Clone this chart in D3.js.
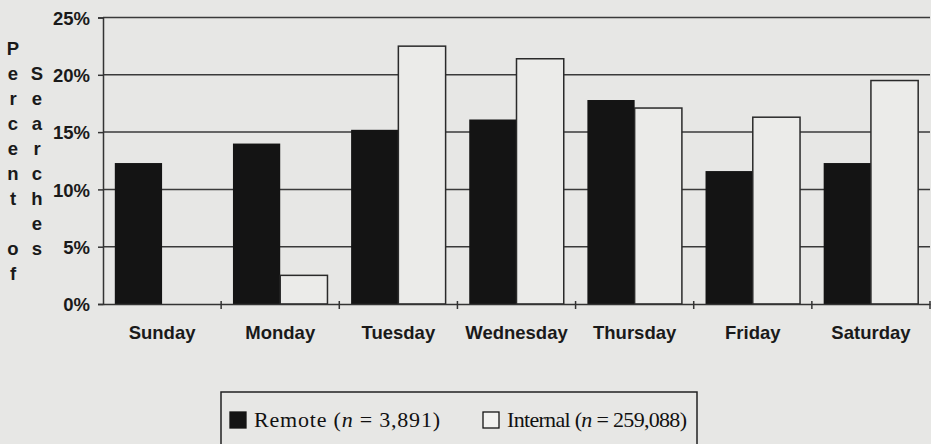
<!DOCTYPE html>
<meta charset="utf-8">
<style>
body { margin: 0; background: #e7e7e5; }
svg { display: block; }
.tick text, .lab { font-family: "Liberation Sans", Arial, sans-serif; font-weight: bold; font-size: 18.5px; fill: #1a1a1a; }
.legend text { font-family: "Liberation Serif", "Times New Roman", serif; font-size: 22px; fill: #111; }
</style>
<body>
<script src="https://cdn.jsdelivr.net/npm/d3@7"></script>
<script>

var days = ["Sunday", "Monday", "Tuesday", "Wednesday", "Thursday", "Friday", "Saturday"];
var remote = [12.3, 14.0, 15.2, 16.1, 17.8, 11.6, 12.3];
var internal = [0, 2.5, 22.5, 21.4, 17.1, 16.3, 19.5];
var yTicks = [0, 5, 10, 15, 20, 25];
var titleCols = ["Percent of", "Searches"];

var W = 931, H = 444;
var plotLeft = 103, plotRight = 930, plotTop = 17.5, plotBottom = 304;

var svg = d3.select("body").append("svg")
  .attr("width", W)
  .attr("height", H);

svg.append("rect").attr("width", W).attr("height", H).attr("fill", "#e7e7e5");

var x = d3.scaleBand().domain(days).range([plotLeft, plotRight]);
var x1 = d3.scaleBand().domain(["remote", "internal"])
  .range([0, x.bandwidth()]).paddingOuter(0.25);
var y = d3.scaleLinear().domain([0, 25]).range([plotBottom, plotTop]);

// gridlines
svg.append("g")
  .selectAll("line")
  .data(yTicks.slice(1))
  .enter().append("line")
  .attr("x1", plotLeft).attr("x2", plotRight)
  .attr("y1", function(d) { return y(d); })
  .attr("y2", function(d) { return y(d); })
  .attr("stroke", "#3a3a3a")
  .attr("stroke-width", 1.5);

var rows = days.map(function(d, i) {
  return {day: d, remote: remote[i], internal: internal[i]};
});

var groups = svg.selectAll(".grp")
  .data(rows)
  .enter().append("g")
  .attr("class", "grp")
  .attr("transform", function(d) { return "translate(" + x(d.day) + ",0)"; });

groups.append("rect")
  .attr("x", x1("remote"))
  .attr("y", function(d) { return y(d.remote); })
  .attr("width", x1.bandwidth())
  .attr("height", function(d) { return plotBottom - y(d.remote); })
  .attr("fill", "#141414");

groups.filter(function(d) { return d.internal > 0; })
  .append("rect")
  .attr("x", x1("internal"))
  .attr("y", function(d) { return y(d.internal); })
  .attr("width", x1.bandwidth())
  .attr("height", function(d) { return plotBottom - y(d.internal); })
  .attr("fill", "#ebebe9")
  .attr("stroke", "#2a2a2a")
  .attr("stroke-width", 1.5);

// y axis
var yAxis = svg.append("g")
  .attr("transform", "translate(" + plotLeft + ",0)")
  .call(d3.axisLeft(y).tickValues(yTicks).tickSize(5).tickPadding(8)
    .tickFormat(function(d) { return d + "%"; }));
yAxis.select(".domain").attr("stroke", "#333").attr("stroke-width", 1.5);
yAxis.selectAll(".tick line").attr("stroke", "#333").attr("stroke-width", 1.5);
yAxis.selectAll(".tick text").attr("dy", "0.36em");

// x axis
var xAxis = svg.append("g")
  .attr("transform", "translate(0," + plotBottom + ")")
  .call(d3.axisBottom(x).tickSize(0).tickPadding(22));
xAxis.select(".domain").attr("stroke", "#333").attr("stroke-width", 1.5);

svg.append("g")
  .selectAll("line")
  .data(days)
  .enter().append("line")
  .attr("x1", function(d) { return x(d) + x.bandwidth(); })
  .attr("x2", function(d) { return x(d) + x.bandwidth(); })
  .attr("y1", plotBottom - 3)
  .attr("y2", plotBottom + 5)
  .attr("stroke", "#333")
  .attr("stroke-width", 1.5);

// vertical stacked axis title
titleCols.forEach(function(word, c) {
  svg.append("g").selectAll("text")
    .data(word.split(""))
    .enter().append("text")
    .attr("class", "lab")
    .attr("text-anchor", "middle")
    .attr("x", 13 + c * 24)
    .attr("y", function(d, i) { return 55 + (i + c) * 25; })
    .text(function(d) { return d; });
});

// legend
var lg = svg.append("g").attr("class", "legend");
lg.append("rect")
  .attr("x", 221).attr("y", 392)
  .attr("width", 476).attr("height", 60)
  .attr("fill", "none")
  .attr("stroke", "#222")
  .attr("stroke-width", 1.5);

var legendItems = [
  {key: "Remote", n: "3,891", fill: "#141414", x: 230, len: 186},
  {key: "Internal", n: "259,088", fill: "#f2f2f0", x: 483, len: 180}
];

legendItems.forEach(function(d) {
  lg.append("rect")
    .attr("x", d.x).attr("y", 412)
    .attr("width", 16).attr("height", 16)
    .attr("fill", d.fill)
    .attr("stroke", "#141414")
    .attr("stroke-width", 1.3);
  var t = lg.append("text")
    .attr("x", d.x + 24).attr("y", 427)
    .attr("textLength", d.len)
    .attr("lengthAdjust", "spacing");
  t.append("tspan").text(d.key + " (");
  t.append("tspan").attr("font-style", "italic").text("n");
  t.append("tspan").text(" = " + d.n + ")");
});

</script>
</body>
